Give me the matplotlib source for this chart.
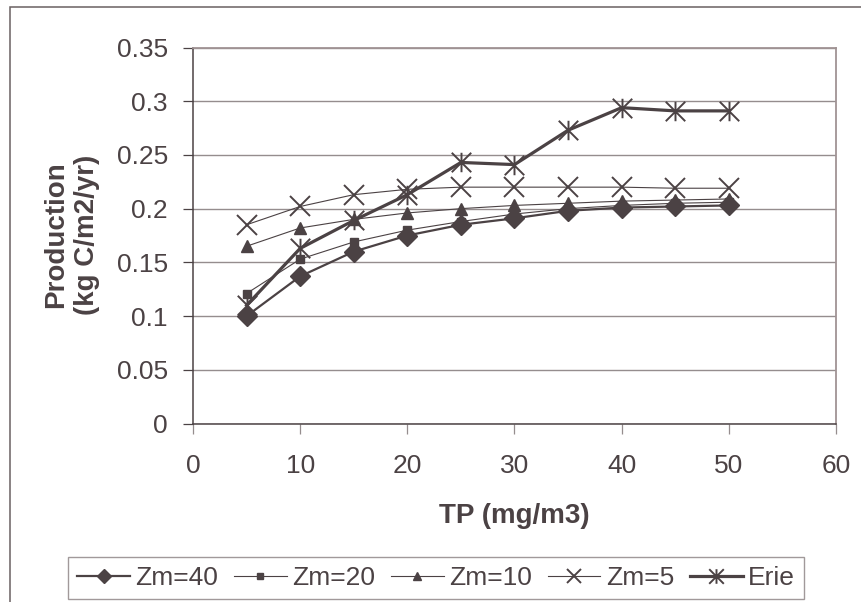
"""Production vs TP chart"""

import matplotlib
matplotlib.use('Agg')
import matplotlib.pyplot as plt
from matplotlib.patches import Rectangle
from matplotlib.path import Path

plt.rcParams['font.family'] = ['Liberation Sans', 'DejaVu Sans']

tp = [5, 10, 15, 20, 25, 30, 35, 40, 45, 50]
zm40 = [0.100, 0.137, 0.160, 0.175, 0.185, 0.191, 0.198, 0.201, 0.202, 0.203]
zm20 = [0.121, 0.153, 0.169, 0.180, 0.188, 0.195, 0.200, 0.203, 0.205, 0.206]
zm10 = [0.165, 0.182, 0.190, 0.196, 0.200, 0.203, 0.205, 0.207, 0.208, 0.209]
zm5 = [0.185, 0.202, 0.213, 0.218, 0.220, 0.220, 0.220, 0.220, 0.219, 0.219]
erie = [0.110, 0.163, 0.189, 0.213, 0.243, 0.241, 0.273, 0.294, 0.291, 0.291]

DARK = '#4b4244'
GRID = '#958d8e'
W, H = 862, 602

# звёздочка как в Excel: крест + вертикальная черта
star = Path([(-1, -1), (1, 1), (-1, 1), (1, -1), (0, -1), (0, 1)],
            [Path.MOVETO, Path.LINETO, Path.MOVETO, Path.LINETO,
             Path.MOVETO, Path.LINETO])

fig = plt.figure(figsize=(W / 100, H / 100), dpi=100)
ax = fig.add_axes([193 / W, 1 - 423.5 / H, (836 - 193) / W, (423.5 - 47.5) / H])

# внешняя рамка (обрезана справа и снизу)
fig.add_artist(Rectangle((10 / W, -0.5), 2, 1.5 - 7 / H, transform=fig.transFigure,
                         fill=False, edgecolor='#6a6162', linewidth=1.1, clip_on=False))

l_erie, = ax.plot(tp, erie, color=DARK, lw=2.3, marker=star, ms=14, mew=1.4,
                  mec=DARK, label='Erie', clip_on=False)
l5, = ax.plot(tp, zm5, color=DARK, lw=0.8, marker='x', ms=14, mew=1.4,
              label='Zm=5', clip_on=False)
l10, = ax.plot(tp, zm10, color=DARK, lw=0.8, marker='^', ms=8.5,
               label='Zm=10', clip_on=False)
l20, = ax.plot(tp, zm20, color=DARK, lw=0.8, marker='s', ms=5.5,
               label='Zm=20', clip_on=False)
l40, = ax.plot(tp, zm40, color=DARK, lw=1.6, marker='D', ms=10,
               label='Zm=40', clip_on=False)

ax.set_xlim(0, 60)
ax.set_ylim(0, 0.35)
ax.set_xticks(range(0, 61, 10))
ax.set_yticks([0, 0.05, 0.1, 0.15, 0.2, 0.25, 0.3, 0.35])
ax.set_yticklabels(['0', '0.05', '0.1', '0.15', '0.2', '0.25', '0.3', '0.35'])
ax.yaxis.grid(True, color=GRID, lw=1.0)
ax.set_axisbelow(True)

for side in ('left', 'bottom'):
    ax.spines[side].set_color(DARK)
    ax.spines[side].set_linewidth(1.1)
for side in ('top', 'right'):
    ax.spines[side].set_color('#a09394')
    ax.spines[side].set_linewidth(1.3)

ax.tick_params(axis='y', direction='out', length=7, width=0.9, color=DARK,
               labelsize=19, labelcolor=DARK, pad=11)
ax.tick_params(axis='x', direction='out', length=7, width=0.9, color=GRID,
               labelsize=19, labelcolor=DARK, pad=15)

ax.set_xlabel('TP (mg/m3)', fontsize=20, fontweight='bold', color=DARK, labelpad=18)
fig.text(72 / W, 1 - 235 / H, 'Production\n(kg C/m2/yr)', rotation=90,
         ha='center', va='center', multialignment='center', fontsize=20,
         fontweight='bold', color=DARK, linespacing=1.25)

leg = fig.legend(handles=[l40, l20, l10, l5, l_erie], loc='upper left',
                 bbox_to_anchor=(68 / W, 1 - 557 / H), ncol=5, fontsize=19,
                 frameon=True, fancybox=False, borderaxespad=0, borderpad=0.35,
                 handlelength=2.0, handletextpad=0.2, columnspacing=0.6,
                 markerscale=0.75, labelcolor=DARK)
leg.get_frame().set_edgecolor('#8a8081')
leg.get_frame().set_linewidth(1.0)

fig.savefig('out.png', dpi=100)
